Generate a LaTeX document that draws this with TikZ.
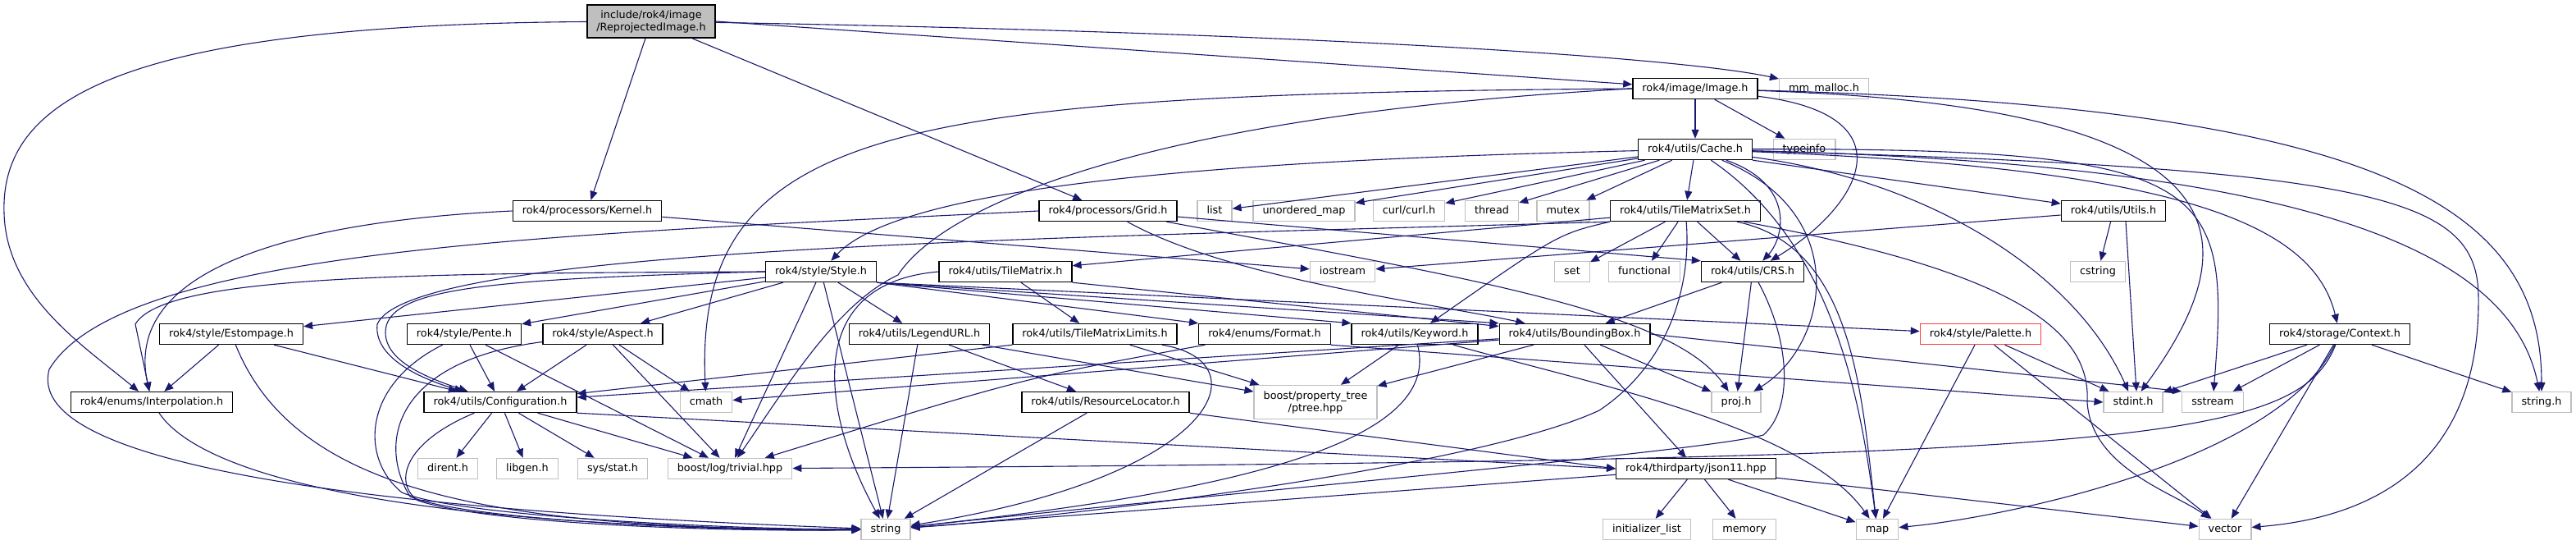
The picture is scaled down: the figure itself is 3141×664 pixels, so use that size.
\documentclass[tikz,border=0pt]{standalone}
\usepackage{fontspec}
\setmainfont{DejaVu Sans}
\usepackage{tikz}
\usepackage{xcolor}
\usetikzlibrary{arrows.meta}

\definecolor{edgeblue}{HTML}{191970}
\definecolor{sysgray}{HTML}{BFBFBF}
\definecolor{rootgray}{HTML}{BFBFBF}
\definecolor{truncred}{HTML}{FF3F3F}

\begin{document}
\begin{tikzpicture}[x=1pt,y=-1pt,
  hbox/.style={draw=black,line width=1.4pt,fill=white,font=\fontsize{12.8}{15}\selectfont,
    inner xsep=11.5pt,inner ysep=0pt,minimum height=25pt,text height=9.5pt,text depth=3pt},
  sbox/.style={hbox,draw=sysgray},
  rbox/.style={hbox,fill=rootgray,minimum height=40pt,text height={},text depth={},align=center},
  tbox/.style={hbox,draw=truncred},
  dep/.style={draw=edgeblue,line width=1.1pt,-{Triangle[length=11pt,width=9pt]}}]
\useasboundingbox (0,0) rectangle (3141,664);

% first rows
\node[rbox] (R) at (794,26) {include/rok4/image\\/ReprojectedImage.h};
\node[hbox] (image) at (2067,108) {rok4/image/Image.h};
\node[sbox] (mmalloc) at (2224,108) {mm\_malloc.h};
\node[hbox] (cache) at (2067,182) {rok4/utils/Cache.h};
\node[sbox] (typeinfo) at (2200,182) {typeinfo};

% row with Kernel and Grid
\node[hbox] (kernel) at (716,257) {rok4/processors/Kernel.h};
\node[hbox] (grid) at (1351,257) {rok4/processors/Grid.h};
\node[sbox] (list) at (1481,257) {list};
\node[sbox] (umap) at (1590,257) {unordered\_map};
\node[sbox] (curl) at (1718,257) {curl/curl.h};
\node[sbox] (thread) at (1819,257) {thread};
\node[sbox] (mutex) at (1906,257) {mutex};
\node[hbox] (tms) at (2055,257) {rok4/utils/TileMatrixSet.h};
\node[hbox] (utils) at (2577,257) {rok4/utils/Utils.h};

% row with Style
\node[hbox] (style) at (1001,331) {rok4/style/Style.h};
\node[hbox] (tm) at (1226,331) {rok4/utils/TileMatrix.h};
\node[sbox] (iostream) at (1637,331) {iostream};
\node[sbox] (set) at (1917,331) {set};
\node[sbox] (functional) at (2005,331) {functional};
\node[hbox] (crs) at (2137,331) {rok4/utils/CRS.h};
\node[sbox] (cstring) at (2558,331) {cstring};

% row with Estompage
\node[hbox] (estompage) at (282,407) {rok4/style/Estompage.h};
\node[hbox] (pente) at (566,407) {rok4/style/Pente.h};
\node[hbox] (aspect) at (735,407) {rok4/style/Aspect.h};
\node[hbox] (legend) at (1121,407) {rok4/utils/LegendURL.h};
\node[hbox] (tml) at (1335,407) {rok4/utils/TileMatrixLimits.h};
\node[hbox] (format) at (1542,407) {rok4/enums/Format.h};
\node[hbox] (keyword) at (1725,407) {rok4/utils/Keyword.h};
\node[hbox] (bbox) at (1920,407) {rok4/utils/BoundingBox.h};
\node[tbox] (palette) at (2415,407) {rok4/style/Palette.h};
\node[hbox] (context) at (2853,407) {rok4/storage/Context.h};

% row with Configuration
\node[hbox] (interp) at (185,490) {rok4/enums/Interpolation.h};
\node[hbox] (config) at (610,490) {rok4/utils/Configuration.h};
\node[sbox] (cmath) at (861,490) {cmath};
\node[hbox] (resloc) at (1348,490) {rok4/utils/ResourceLocator.h};
\node[sbox,minimum height=41pt,text height={},text depth={},align=center] (ptree) at (1604,490) {boost/property\_tree\\/ptree.hpp};
\node[sbox] (proj) at (2117,490) {proj.h};
\node[sbox] (stdint) at (2601,490) {stdint.h};
\node[sbox] (sstream) at (2698,490) {sstream};
\node[sbox] (stringh) at (3099,490) {string.h};

% row with trivial.hpp and json11
\node[sbox] (dirent) at (546,571) {dirent.h};
\node[sbox] (libgen) at (643,571) {libgen.h};
\node[sbox] (sysstat) at (747,571) {sys/stat.h};
\node[sbox] (trivial) at (890,571) {boost/log/trivial.hpp};
\node[hbox] (json) at (2068,571) {rok4/thirdparty/json11.hpp};

% last row
\node[sbox] (string) at (1080,645) {string};
\node[sbox] (initlist) at (2008,645) {initializer\_list};
\node[sbox] (memory) at (2127,645) {memory};
\node[sbox] (map) at (2289,645) {map};
\node[sbox] (vector) at (2713,645) {vector};

% ReprojectedImage.h
\draw[dep] (R) .. controls (150,30) and (0,120) .. (5,260) .. controls (8,360) and (100,420) .. (interp);
\draw[dep] (R) -- (kernel);
\draw[dep] (R) -- (grid);
\draw[dep] (R.east) -- (image);
\draw[dep] (R) .. controls (1600,40) and (2050,70) .. (mmalloc);

% Image.h
\draw[dep] (image) -- (cache);
\draw[dep] (image) -- (typeinfo);
\draw[dep] (image) .. controls (2330,140) and (2270,250) .. (crs);
\draw[dep] (image.west) .. controls (1100,115) and (845,150) .. (cmath);
\draw[dep] (image.west) .. controls (1400,140) and (1150,250) .. (1095,335) .. controls (1020,370) and (960,470) .. (trivial);
\draw[dep] (image) .. controls (2760,130) and (2740,300) .. (stdint);
\draw[dep] (image) .. controls (2900,130) and (3099,250) .. (stringh);

% Cache.h
\draw[dep] (cache) -- (tms);
\draw[dep] (cache) -- (list);
\draw[dep] (cache) -- (umap);
\draw[dep] (cache) -- (curl);
\draw[dep] (cache) -- (thread);
\draw[dep] (cache) -- (mutex);
\draw[dep] (cache.south east) -- (utils);
\draw[dep] (cache) .. controls (1500,195) and (1100,225) .. (style);
\draw[dep] (cache) .. controls (2650,205) and (2820,270) .. (context);
\draw[dep] (cache) .. controls (2190,225) and (2175,290) .. (crs);
\draw[dep] (cache) .. controls (2260,260) and (2230,420) .. (proj);
\draw[dep] (cache) .. controls (2240,300) and (2270,500) .. (map);
\draw[dep] (cache) .. controls (2350,220) and (2530,330) .. (stdint);
\draw[dep] (cache) .. controls (2700,180) and (2720,220) .. (sstream);
\draw[dep] (cache) .. controls (2800,200) and (3060,300) .. (stringh);
\draw[dep] (cache) .. controls (2900,205) and (3020,240) .. (3022,360) .. controls (3025,560) and (2900,630) .. (vector);

% Kernel.h and Grid.h
\draw[dep] (kernel.west) .. controls (350,270) and (150,330) .. (interp);
\draw[dep] (kernel) -- (iostream);
\draw[dep] (grid.west) .. controls (700,285) and (150,300) .. (60,450) .. controls (30,560) and (400,620) .. (string);
\draw[dep] (grid) .. controls (1500,340) and (1750,370) .. (bbox);
\draw[dep] (grid) -- (crs.north west);
\draw[dep] (grid) .. controls (1800,340) and (2040,380) .. (proj);

% Style.h
\draw[dep] (style) -- (estompage);
\draw[dep] (style) -- (pente);
\draw[dep] (style) -- (aspect);
\draw[dep] (style) -- (legend);
\draw[dep] (style.south east) -- (format.north west);
\draw[dep] (style.south east) -- (keyword.north west);
\draw[dep] (style.south east) -- (bbox.north west);
\draw[dep] (style.south east) -- (palette);
\draw[dep] (style.west) .. controls (600,340) and (470,350) .. (470,405) .. controls (470,440) and (520,460) .. (config);
\draw[dep] (style.west) .. controls (500,333) and (200,335) .. (165,395) -- (interp);
\draw[dep] (style) -- (string);
\draw[dep] (style) -- (trivial);

% TileMatrixSet.h
\draw[dep] (tms) -- (tm);
\draw[dep] (tms.south west) .. controls (1900,285) .. (keyword);
\draw[dep] (tms) -- (set);
\draw[dep] (tms) -- (functional);
\draw[dep] (tms) -- (crs);
\draw[dep] (tms.south west) .. controls (1300,290) and (500,300) .. (460,395) .. controls (455,440) and (525,465) .. (config);
\draw[dep] (tms) .. controls (2260,300) and (2270,480) .. (map);
\draw[dep] (tms) .. controls (2450,330) and (2550,400) .. (2545,490) .. controls (2550,570) and (2650,600) .. (vector);
\draw[dep] (tms) .. controls (2062,340) and (2040,440) .. (1950,500) .. controls (1800,570) and (1300,630) .. (string);

% Utils.h
\draw[dep] (utils) -- (iostream);
\draw[dep] (utils) -- (cstring);
\draw[dep] ([xshift=15pt]utils.south) -- ([xshift=4pt]stdint.north);

% TileMatrix.h
\draw[dep] (tm) -- (tml);
\draw[dep] (tm.south east) -- (bbox);
\draw[dep] (tm.west) .. controls (980,345) and (1000,500) .. (string);

% style headers
\draw[dep] (estompage) -- (interp);
\draw[dep] (estompage) -- (config);
\draw[dep] (estompage) .. controls (360,600) and (600,645) .. (string);
\draw[dep] (pente) -- (config);
\draw[dep] (pente) -- (trivial);
\draw[dep] (pente) .. controls (440,470) and (440,560) .. (490,600) .. controls (560,630) and (900,645) .. (string);
\draw[dep] (aspect) -- (config);
\draw[dep] (aspect) -- (cmath);
\draw[dep] (aspect) -- (trivial);
\draw[dep] (aspect) .. controls (480,440) and (460,540) .. (500,605) .. controls (570,635) and (900,648) .. (string);

% utils headers
\draw[dep] (legend) -- (resloc);
\draw[dep] (legend) -- (ptree);
\draw[dep] (legend) -- (string);
\draw[dep] (tml) -- (ptree);
\draw[dep] (tml.south west) -- (config);
\draw[dep] (tml) .. controls (1540,440) and (1490,580) .. (string);
\draw[dep] (format) .. controls (1250,460) .. (trivial);
\draw[dep] (format.south east) -- (stdint.west);
\draw[dep] (keyword) -- (ptree);
\draw[dep] (keyword) .. controls (1760,540) and (1500,600) .. (string);
\draw[dep] (keyword) .. controls (1950,470) and (2200,520) .. (map);
\draw[dep] (bbox) -- (ptree);
\draw[dep] (bbox) -- (json);
\draw[dep] (bbox) -- (proj);
\draw[dep] (bbox) -- (cmath);
\draw[dep] (bbox) -- (config);
\draw[dep] (bbox.east) -- (sstream.north west);
\draw[dep] (crs) -- (bbox);
\draw[dep] (crs) -- (proj);
\draw[dep] (crs) .. controls (2185,420) and (2185,500) .. (2150,530) .. controls (2080,550) and (1500,600) .. (string);

% Palette.h and Context.h
\draw[dep] (palette) -- (map);
\draw[dep] (palette) -- (vector);
\draw[dep] (palette) -- (stdint);
\draw[dep] (context) -- (stdint);
\draw[dep] (context) -- (sstream);
\draw[dep] (context) -- (stringh);
\draw[dep] (context) -- (vector);
\draw[dep] (context) .. controls (2780,560) and (2450,630) .. (map);
\draw[dep] (context) .. controls (2800,540) and (2600,560) .. (trivial);

% lower headers
\draw[dep] (interp) .. controls (260,600) and (600,645) .. (string);
\draw[dep] (config) -- (dirent);
\draw[dep] (config) -- (libgen);
\draw[dep] (config) -- (sysstat);
\draw[dep] (config) -- (trivial);
\draw[dep] (config.south east) -- (json.west);
\draw[dep] (config) .. controls (490,540) and (480,590) .. (510,610) .. controls (600,640) and (900,648) .. (string);
\draw[dep] (resloc) -- (string);
\draw[dep] (resloc.south east) -- (json.west);
\draw[dep] (json) -- (initlist);
\draw[dep] (json) -- (memory);
\draw[dep] (json) -- (map);
\draw[dep] (json) -- (vector);
\draw[dep] (json) -- (string);
\end{tikzpicture}
\end{document}
